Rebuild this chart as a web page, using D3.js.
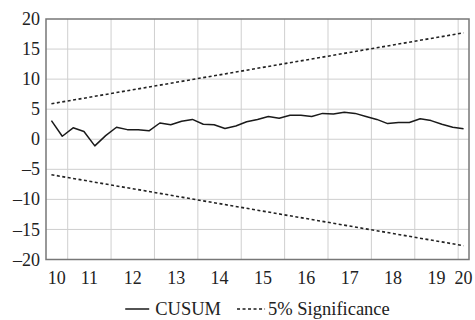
<!DOCTYPE html>
<html>
<head>
<meta charset="utf-8">
<script src="https://cdn.jsdelivr.net/npm/d3@7"></script>
<style>
  body { margin: 0; background: #fff; }
</style>
</head>
<body>
<div id="chart"></div>
<script>
const width = 475;
const height = 320;
const margin = { top: 19, right: 6, bottom: 60.5, left: 46 };
const font = '"Liberation Serif"';

// quarterly observations, 2010Q3 .. 2020Q1
const startYear = 2010, startQuarter = 3;
const cusum = [
  3.1, 0.5, 1.9, 1.3, -1.1, 0.6, 2.0, 1.6, 1.6, 1.4,
  2.7, 2.4, 3.0, 3.3, 2.5, 2.4, 1.8, 2.2, 2.9, 3.3,
  3.8, 3.5, 4.0, 4.0, 3.8, 4.3, 4.2, 4.5, 4.3, 3.8,
  3.3, 2.6, 2.8, 2.8, 3.4, 3.1, 2.5, 2.0, 1.75
];
// 5% significance bounds at first and last observation
const upperBound = [5.9, 17.7];
const lowerBound = [-5.9, -17.7];
const yTicks = [-20, -15, -10, -5, 0, 5, 10, 15, 20];
const years = [2010, 2011, 2012, 2013, 2014, 2015, 2016, 2017, 2018, 2019, 2020];
const legendItems = ["CUSUM", "5% Significance"];

const times = cusum.map((d, i) => startYear + (startQuarter - 1 + i) / 4 + 0.125);
const t0 = startYear + (startQuarter - 1) / 4;
const t1 = times[times.length - 1] + 0.125;

const x = d3.scaleLinear().domain([t0, t1]).range([margin.left, width - margin.right]);
const y = d3.scaleLinear().domain([-20, 20]).range([height - margin.bottom, margin.top]);

const svg = d3.select("#chart").append("svg")
  .attr("width", width)
  .attr("height", height);

// grid
svg.append("g").selectAll("line.h")
  .data(yTicks.slice(1, -1))
  .join("line")
    .attr("x1", x.range()[0]).attr("x2", x.range()[1])
    .attr("y1", d => y(d)).attr("y2", d => y(d))
    .attr("stroke", "#cfcfcf").attr("stroke-width", 1);

svg.append("g").selectAll("line.v")
  .data(years.filter(yr => yr > t0 && yr < t1))
  .join("line")
    .attr("x1", d => x(d)).attr("x2", d => x(d))
    .attr("y1", y.range()[0]).attr("y2", y.range()[1])
    .attr("stroke", "#cfcfcf").attr("stroke-width", 1);

// frame
svg.append("rect")
  .attr("x", x.range()[0]).attr("y", y.range()[1])
  .attr("width", x.range()[1] - x.range()[0])
  .attr("height", y.range()[0] - y.range()[1])
  .attr("fill", "none")
  .attr("stroke", "#777")
  .attr("stroke-width", 1.5);

// y labels
svg.append("g").selectAll("text")
  .data(yTicks)
  .join("text")
    .attr("x", margin.left - 6)
    .attr("y", d => y(d))
    .attr("dy", "0.34em")
    .attr("text-anchor", "end")
    .attr("fill", "#222")
    .style("font-family", font)
    .style("font-size", "18px")
    .text(d => d < 0 ? "\u2013" + Math.abs(d) : d);

// x labels, centred in each year's span
svg.append("g").selectAll("text")
  .data(years)
  .join("text")
    .attr("x", d => x((Math.max(d, t0) + Math.min(d + 1, t1)) / 2))
    .attr("y", 284)
    .attr("text-anchor", "middle")
    .attr("fill", "#222")
    .style("font-family", font)
    .style("font-size", "18px")
    .text(d => String(d).slice(2));

// significance bounds
[upperBound, lowerBound].forEach(b => {
  svg.append("line")
    .attr("x1", x(times[0])).attr("y1", y(b[0]))
    .attr("x2", x(times[times.length - 1])).attr("y2", y(b[1]))
    .attr("stroke", "#222")
    .attr("stroke-width", 1.6)
    .attr("stroke-dasharray", "3,2.5");
});

// cusum line
svg.append("path")
  .datum(cusum)
  .attr("fill", "none")
  .attr("stroke", "#1a1a1a")
  .attr("stroke-width", 1.5)
  .attr("stroke-linejoin", "round")
  .attr("d", d3.line().x((d, i) => x(times[i])).y(d => y(d)));

// legend
const legend = svg.append("g");
let lx = 0;
legendItems.forEach((name, i) => {
  const g = legend.append("g").attr("transform", `translate(${lx},0)`);
  const len = i === 0 ? 24 : 28;
  const off = i === 0 ? 30 : 31;
  g.append("line")
    .attr("x1", 0).attr("x2", len).attr("y1", 0).attr("y2", 0)
    .attr("stroke", "#1a1a1a")
    .attr("stroke-width", i === 0 ? 1.5 : 1.6)
    .attr("stroke-dasharray", i === 0 ? null : "3,2.5");
  const t = g.append("text")
    .attr("x", off)
    .attr("y", 0)
    .attr("dy", "0.34em")
    .attr("fill", "#222")
    .style("font-family", font)
    .style("font-size", "18.5px")
    .text(name);
  lx += off + t.node().getComputedTextLength() + 16;
});
const lw = lx - 16;
legend.attr("transform", `translate(${(x.range()[0] + x.range()[1]) / 2 - lw / 2},309)`);
</script>
</body>
</html>
